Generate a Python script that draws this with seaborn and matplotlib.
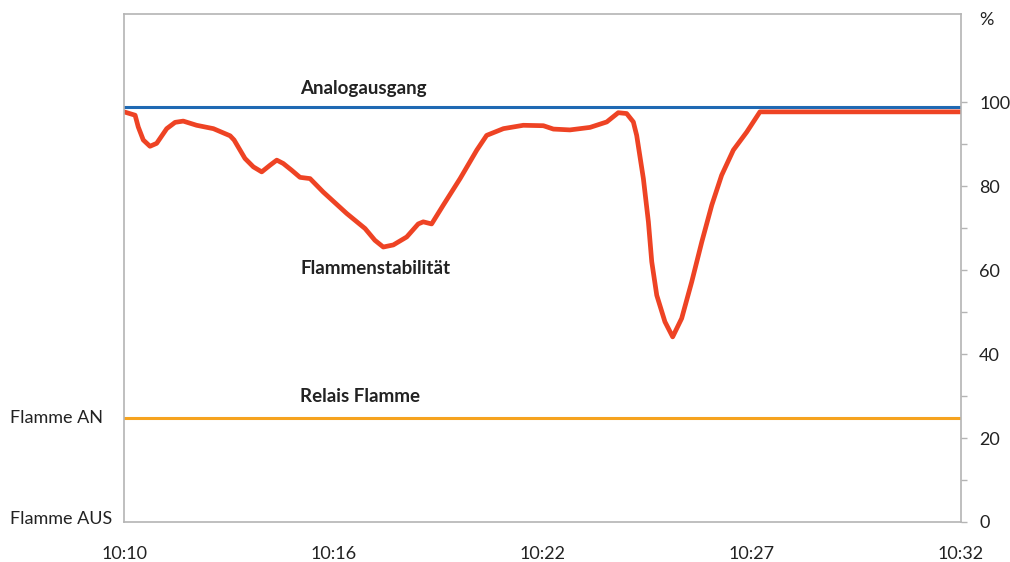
import seaborn as sns
import matplotlib.pyplot as plt
from matplotlib.ticker import FixedLocator

# time axis labels (equally spaced categories)
time_labels = ['10:10', '10:16', '10:22', '10:27', '10:32']

# Flammenstabilität curve, x in label positions, y in %
flame_x = [0.0, 0.053, 0.068, 0.092, 0.124, 0.156, 0.204, 0.244, 0.283, 0.347,
           0.427, 0.507, 0.526, 0.578, 0.618, 0.658, 0.698, 0.730, 0.761, 0.801,
           0.841, 0.889, 0.952, 1.064, 1.152, 1.199, 1.239, 1.287, 1.351, 1.406,
           1.430, 1.470, 1.526, 1.606, 1.686, 1.733, 1.813, 1.908, 2.004, 2.052,
           2.131, 2.227, 2.307, 2.362, 2.402, 2.434, 2.450, 2.482, 2.506, 2.522,
           2.546, 2.585, 2.622, 2.665, 2.713, 2.761, 2.809, 2.856, 2.912, 2.976,
           3.039, 3.135, 4.0]
flame_y = [97.7, 96.9, 94.1, 91.0, 89.5, 90.2, 93.7, 95.2, 95.5, 94.5,
           93.7, 92.0, 91.0, 86.6, 84.6, 83.4, 85.0, 86.2, 85.4, 83.8,
           82.1, 81.8, 78.6, 73.5, 69.9, 67.1, 65.5, 66.0, 67.9, 71.0,
           71.5, 71.0, 75.5, 81.8, 88.6, 92.1, 93.7, 94.5, 94.4, 93.6,
           93.4, 94.0, 95.3, 97.5, 97.3, 95.3, 92.1, 81.8, 71.5, 62.0,
           54.0, 47.7, 44.1, 48.5, 57.2, 66.7, 75.5, 82.6, 88.6, 92.9,
           97.7, 97.7, 97.7]

# constant lines
analog_x = [0, 4]
analog_y = [98.8, 98.8]
relais_x = [0, 4]
relais_y = [24.8, 24.8]

sns.set_style('white')
plt.rcParams['font.family'] = ['Lato', 'DejaVu Sans']

fig = plt.figure(figsize=(10.1, 5.62), dpi=100)
ax = fig.add_axes([0.1228, 0.0712, 0.8287, 0.9038])

sns.lineplot(x=analog_x, y=analog_y, color='#1f69b3', linewidth=2.2, ax=ax)
sns.lineplot(x=relais_x, y=relais_y, color='#f6a31e', linewidth=2.2, ax=ax)
sns.lineplot(x=flame_x, y=flame_y, color='#ee4324', linewidth=3.4, ax=ax,
             sort=False, solid_joinstyle='round', solid_capstyle='round')

ax.set_xlim(0, 4)
ax.set_ylim(0, 121)

gray = '#b4b4b4'
txt = '#222222'
for s in ax.spines.values():
    s.set_color(gray)
    s.set_linewidth(1.2)

ax.set_xticks(range(len(time_labels)))
ax.set_xticklabels(time_labels)
ax.yaxis.tick_right()
ax.set_yticks([0, 20, 40, 60, 80, 100])
ax.yaxis.set_minor_locator(FixedLocator([10, 30, 50, 70, 90]))
ax.tick_params(axis='both', which='both', direction='out', length=4, width=1,
               color=gray, labelsize=13, labelcolor=txt)
ax.tick_params(axis='y', which='both', right=True, left=False, pad=9)
ax.tick_params(axis='x', pad=13)
ax.set_xlabel('')
ax.set_ylabel('')

# left labels for relay state
ytr = ax.get_yaxis_transform()
ax.text(-0.136, 24.8, 'Flamme AN', transform=ytr, fontsize=13, color=txt,
        ha='left', va='center')
ax.text(-0.136, 0.8, 'Flamme AUS', transform=ytr, fontsize=13, color=txt,
        ha='left', va='center')

ax.text(1.0215, 0.988, '%', transform=ax.transAxes, fontsize=13, color=txt,
        ha='left', va='center')

ax.text(0.841, 103.3, 'Analogausgang', fontsize=13.5, fontweight='bold',
        color=txt, va='center')
ax.text(0.841, 60.5, 'Flammenstabilität', fontsize=13.5, fontweight='bold',
        color=txt, va='center')
ax.text(0.841, 29.8, 'Relais Flamme', fontsize=13.5, fontweight='bold',
        color=txt, va='center')

fig.savefig('out.png', dpi=100)
